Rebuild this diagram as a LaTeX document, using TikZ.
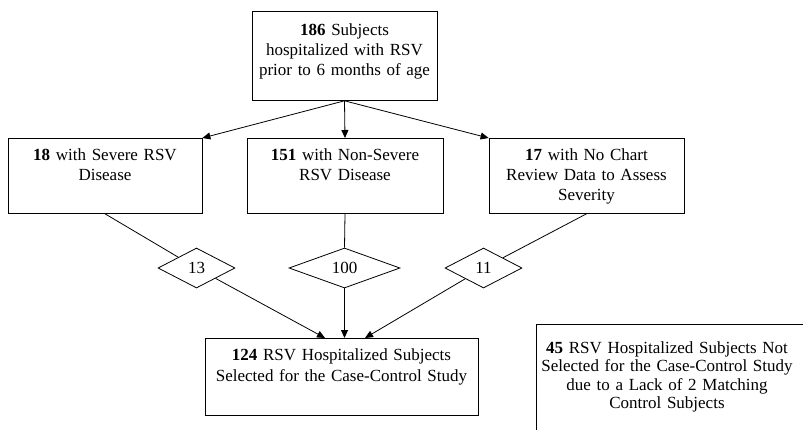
\documentclass[tikz,border=0pt]{standalone}
\usepackage{fontspec}
\setmainfont{Liberation Serif}
\usetikzlibrary{shapes.geometric,arrows.meta}

\begin{document}
\begin{tikzpicture}[x=1pt, y=-1pt, >={Triangle[length=8pt,width=7pt]},
    font=\fontsize{17}{20}\selectfont,
    box/.style={draw, line width=0.8pt, inner sep=0pt, align=center},
    gate/.style={draw, diamond, line width=0.8pt, inner sep=0pt, aspect=2, minimum height=40pt},
    link/.style={line width=0.8pt}]
    \useasboundingbox (0,0) rectangle (803,429);

    \node[box, anchor=north, text width=185pt, text height=24pt, text depth=65pt] (n186) at (344.5,11)
        {\textbf{186} Subjects\\ hospitalized with RSV\\ prior to 6 months of age};

    \node[box, anchor=north, text width=194pt, text height=22pt, text depth=53pt] (n18) at (105,138)
        {\textbf{18} with Severe RSV\\ Disease};
    \node[box, anchor=north, text width=196pt, text height=22pt, text depth=53pt] (n151) at (345,138)
        {\textbf{151} with Non-Severe\\ RSV Disease};
    \node[box, anchor=north, text width=195pt, text height=22pt, text depth=53pt] (n17) at (586.5,138)
        {\textbf{17} with No Chart\\ Review Data to Assess\\ Severity};

    \node[gate, minimum width=77pt] (d13) at (196.5,268) {13};
    \node[gate, minimum width=111pt] (d100) at (344.5,268) {100};
    \node[gate, minimum width=77pt] (d11) at (483.5,268) {11};

    \node[box, anchor=north, text width=273pt, text height=22pt, text depth=55pt,
        font=\fontsize{17}{21}\selectfont] (n124) at (341.5,338)
        {\textbf{124} RSV Hospitalized Subjects\\ Selected for the Case-Control Study};

    \node[box, draw=none, anchor=north, text width=260pt, text height=29pt, text depth=70pt,
        font=\fontsize{17}{18.5}\selectfont] (n45) at (667,324)
        {\textbf{45} RSV Hospitalized Subjects Not\\ Selected for the Case-Control Study\\ due to a Lack of 2 Matching\\ Control Subjects};
    \draw[link] ([yshift=-150pt]n45.north west) -- (n45.north west) -- ([xshift=60pt]n45.north east);

    \draw[link, ->] (n186.south) -- (n18.north east);
    \draw[link, ->] (n186.south) -- (n151.north);
    \draw[link, ->] (n186.south) -- (n17.north west);

    \draw[link] (n18.south) -- (d13);
    \draw[link] (n151.south) -- (d100.north);
    \draw[link] (n17.south) -- (d11);

    \draw[link, ->] (d13) -- ([xshift=-16.5pt]n124.north);
    \draw[link, ->] (d100.south) -- (d100.south |- n124.north);
    \draw[link, ->] (d11) -- ([xshift=23.5pt]n124.north);
\end{tikzpicture}
\end{document}
